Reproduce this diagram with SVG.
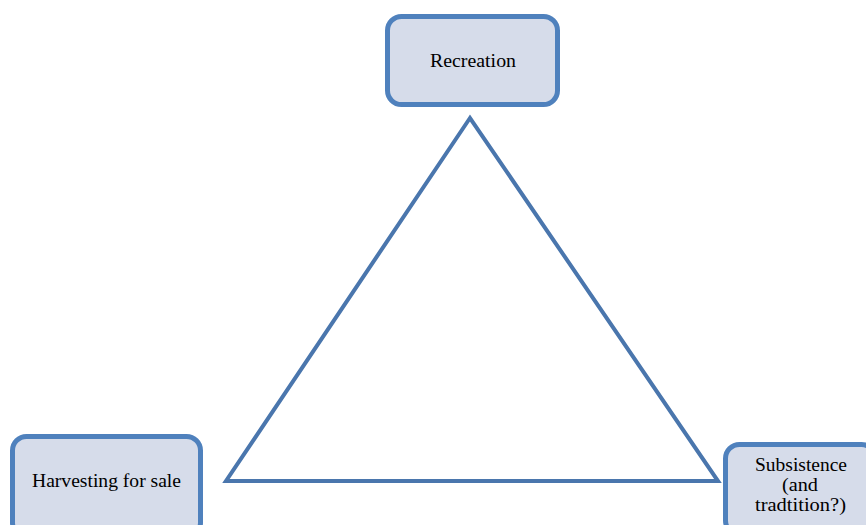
<svg xmlns="http://www.w3.org/2000/svg" width="866" height="525" viewBox="0 0 866 525">
<style>
.box{fill:#d6dcea;stroke:#4f81bd;stroke-width:5}
.lbl{font-family:"Liberation Serif","DejaVu Serif",serif;font-size:18px;fill:#000;text-anchor:middle}
.edge{fill:none;stroke:#4a76ad;stroke-width:4;stroke-linejoin:miter}
</style>
<rect width="866" height="525" fill="#fff"/>
<g id="connectors">
<polygon class="edge" points="470,118 226,481 718,481"/>
</g>
<g id="recreation">
<rect class="box" x="387.5" y="16.5" width="170" height="88" rx="14"/>
<text class="lbl" x="473" y="67" textLength="86" lengthAdjust="spacingAndGlyphs">Recreation</text>
</g>
<g id="harvesting">
<rect class="box" x="12.5" y="436.5" width="188" height="100" rx="14"/>
<text class="lbl" x="106.5" y="487" textLength="149" lengthAdjust="spacingAndGlyphs">Harvesting for sale</text>
</g>
<g id="subsistence">
<rect class="box" x="725.5" y="444.5" width="150" height="90" rx="14"/>
<text class="lbl" x="801" y="471" textLength="92" lengthAdjust="spacingAndGlyphs">Subsistence</text>
<text class="lbl" x="800" y="491" textLength="36" lengthAdjust="spacingAndGlyphs">(and</text>
<text class="lbl" x="800.5" y="511" textLength="91" lengthAdjust="spacingAndGlyphs">tradtition?)</text>
</g>
</svg>
